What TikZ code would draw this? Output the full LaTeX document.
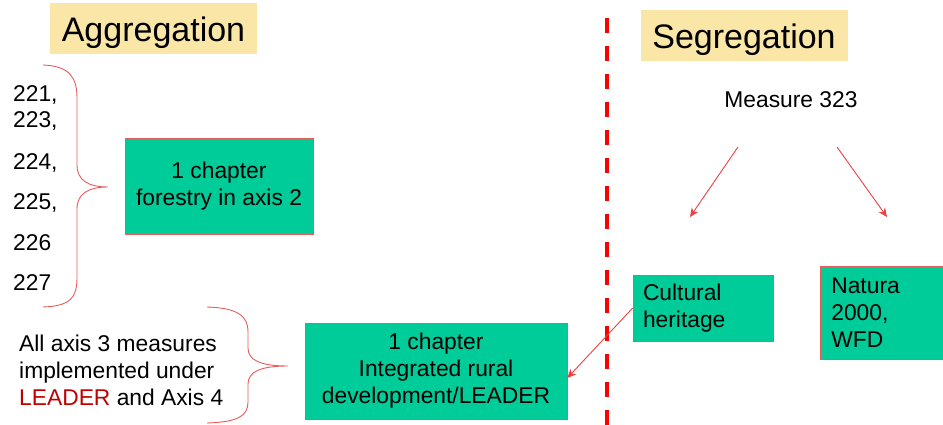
\documentclass[tikz,border=0pt]{standalone}
\usepackage{fontspec}
\setmainfont{Liberation Sans}
\usepackage{xcolor}
\usetikzlibrary{arrows.meta,positioning}

\definecolor{chapgreen}{RGB}{0,204,153}
\definecolor{tagyellow}{RGB}{250,231,168}
\definecolor{bracered}{RGB}{232,92,92}
\definecolor{arrowred}{RGB}{236,64,64}
\definecolor{leaderred}{RGB}{192,0,0}

\tikzset{
  body/.style={font=\fontsize{22.8}{27}\selectfont, inner sep=0pt},
  tagbox/.style={fill=tagyellow, inner sep=0pt, minimum width=207pt, minimum height=51pt,
    text height=34pt, text depth=7pt, font=\fontsize{34}{40}\selectfont},
  chapbox/.style={body, draw=bracered, line width=0.7pt, fill=chapgreen},
  brace/.style={draw=bracered, line width=0.9pt},
  flow/.style={draw=arrowred, line width=0.9pt, -{Stealth[length=9pt,width=8pt]}},
  divider/.style={draw=red, line width=4pt, dash pattern=on 15pt off 13pt}
}

\begin{document}
\begin{tikzpicture}[x=1pt,y=-1pt]
\useasboundingbox (0,0) rectangle (943,425);

% headings
\node[tagbox] (agg) at (153.5,28.5) {Aggregation};
\node[tagbox] (seg) at (744,35.5) {Segregation};

% dividing line
\draw[divider] (607,18) -- (607,425);

% measure numbers
\foreach \num/\yy in {221/102,223/128,224/170,225/210}
  \node[body, anchor=base west] (n\num) at (13,\yy) {\num,};
\foreach \num/\yy in {226/250,227/290}
  \node[body, anchor=base west] (n\num) at (13,\yy) {\num};

\draw[brace] (43,65) .. controls (70,66) and (77,78) .. (77,98) -- (77,165)
  .. controls (77,180) and (88,187) .. (108,187)
  .. controls (88,187) and (77,194) .. (77,209) -- (77,278)
  .. controls (77,298) and (70,306) .. (43,307);

\node[chapbox, minimum width=188pt, minimum height=96pt, align=center]
  (forestry) at (219,186) {1 chapter\\forestry in axis 2};

% axis 3
\node[body, anchor=west, align=left] (axis) at (19,370)
  {All axis 3 measures\\implemented under\\\textcolor{leaderred}{LEADER} and Axis 4};

\draw[brace] (207,307) .. controls (238,308) and (248,316) .. (248,332) -- (248,348)
  .. controls (248,360) and (260,366) .. (288,366)
  .. controls (260,366) and (248,372) .. (248,384) -- (248,402)
  .. controls (248,416) and (238,422) .. (207,423);

\node[chapbox, minimum width=262pt, minimum height=96pt, align=center]
  (leader) at (436,371) {1 chapter\\Integrated rural\\development/LEADER};

% measure 323
\node[body, anchor=base] (m323) at (791,108) {Measure 323};
\coordinate (m323l) at (738,147);
\coordinate (m323r) at (837,147);
\coordinate (cultend) at (690,217);
\coordinate (natend) at (887,217);
\draw[flow] (m323l) -- (cultend);
\draw[flow] (m323r) -- (natend);

\node[chapbox, minimum height=66pt, inner xsep=10pt, text width=120pt, align=left]
  (cult) at (703,308) {Cultural\\heritage};
\node[chapbox, minimum height=93pt, inner xsep=11pt, text width=180pt, anchor=west, align=left]
  (natura) at (820,312.5) {Natura\\2000,\\WFD};

\draw[flow] (cult.west) -- ([yshift=-7pt]leader.east);
\end{tikzpicture}
\end{document}
